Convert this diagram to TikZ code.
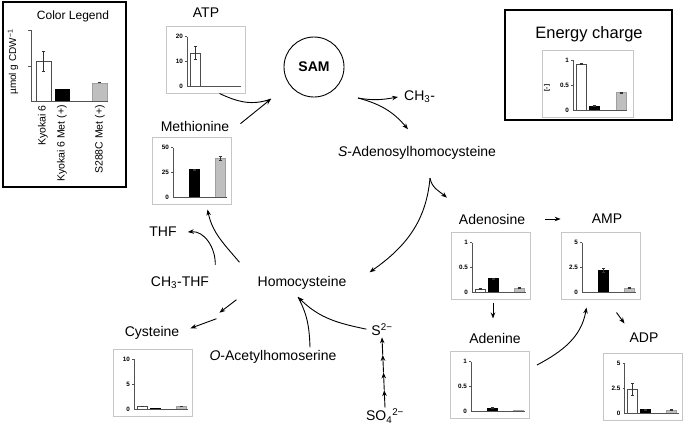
\documentclass[tikz,border=0pt]{standalone}
\usepackage{fontspec}
\setmainfont{Liberation Sans}
\usetikzlibrary{arrows, arrows.meta, calc, positioning}

\tikzset{
  lbl/.style={font=\fontsize{14}{16}\selectfont, inner sep=1pt},
  chartbox/.style={draw=gray!45, line width=0.8pt, minimum width=79pt, minimum height=67pt, inner sep=0pt, outer sep=0pt},
  framebox/.style={draw=black, line width=1.6pt},
  axisline/.style={draw=gray!65!black, line width=0.6pt},
  ticklabel/.style={font=\fontsize{6.3}{7}\selectfont\bfseries, anchor=east, inner sep=0pt},
  wbar/.style={draw=gray!60!black, fill=white, line width=0.5pt},
  kbar/.style={draw=black, fill=black, line width=0.5pt},
  gbar/.style={draw=gray!75, fill=gray!50, line width=0.5pt},
  errbar/.style={draw=gray!40!black, line width=0.5pt},
  conn/.style={line width=0.9pt, >={Stealth[length=6pt,width=4.5pt]}},
}

% small bar chart inside a chart box: [axis offset]{box}{top}{middle}{x/height/error/style,...}
\newcommand{\minichart}[5][21]{%
  \begin{scope}[shift={($(#2.south west)+(#1,-7)$)}, yscale=-1]
    \foreach \bx/\bh/\be/\bs in {#5} {
      \draw[\bs] (\bx,0) rectangle (\bx+10,50*\bh);
      \ifdim\be pt>0pt
        \draw[errbar] (\bx+5,50*\bh-50*\be) -- (\bx+5,50*\bh+50*\be)
          (\bx+3.5,50*\bh+50*\be) -- (\bx+6.5,50*\bh+50*\be)
          (\bx+3.5,50*\bh-50*\be) -- (\bx+6.5,50*\bh-50*\be);
      \fi
    }
    \draw[axisline] (0,50) -- (0,0) -- (54,0) (-2,50) -- (0,50) (-2,25) -- (0,25);
    \node[ticklabel] at (-4,50) {#3};
    \node[ticklabel] at (-4,25) {#4};
    \node[ticklabel] at (-4,0) {0};
  \end{scope}}

\begin{document}
\begin{tikzpicture}[x=1pt, y=-1pt]
\useasboundingbox (0,0) rectangle (685,426);

% colour legend
\draw[framebox] (3,2) rectangle (126,187);
\node[font=\fontsize{12}{14}\selectfont] (legtitle) at (73,16) {Color Legend};
\draw[wbar] (36,101) rectangle (51,61);
\draw[errbar] (43.5,51) -- (43.5,71) (42,51) -- (45,51) (42,71) -- (45,71);
\draw[kbar] (55,101) rectangle (69,89);
\draw[gbar] (92,101) rectangle (107,83);
\draw[errbar] (98,82) -- (101,82);
\draw[axisline] (31,101) -- (31,30) (28,30) -- (31,30) (28,66) -- (31,66) (31,101) -- (108,101);
\node[font=\fontsize{10}{12}\selectfont, rotate=90] (legunit) at (13,62) {µmol g CDW\textsuperscript{−1}};
\node[font=\fontsize{10.5}{12}\selectfont, rotate=90, anchor=east, inner sep=0pt] (legk6) at (43,105) {Kyokai 6};
\node[font=\fontsize{10.5}{12}\selectfont, rotate=90, anchor=east, inner sep=0pt] (legk6met) at (62,105) {Kyokai 6 Met (+)};
\node[font=\fontsize{10.5}{12}\selectfont, rotate=90, anchor=east, inner sep=0pt] (legs288c) at (100,105) {S288C Met (+)};

% energy charge
\draw[framebox] (505,10) rectangle (672,120);
\node[font=\fontsize{16.5}{18}\selectfont] (ectitle) at (589,34) {Energy charge};
\node[chartbox, minimum width=91pt] (ecchart) at (587.5,83.5) {};
\minichart[31]{ecchart}{1}{0.5}{3/0.92/0.01/wbar, 16/0.08/0.01/kbar, 43/0.35/0.01/gbar}
\node[ticklabel, anchor=center, rotate=90] (ecunit) at (547,88) {[-]};

% metabolites
\node[lbl] (atp) at (206,13) {ATP};
\node[chartbox] (atpchart) at (205.5,60) {};
\minichart{atpchart}{20}{10}{3/0.675/0.125/wbar, 16/0.004/0/kbar, 42/0.004/0/gbar}

\node[draw, circle, line width=0.9pt, minimum size=60pt, font=\fontsize{14}{16}\selectfont\bfseries] (sam) at (314,67) {SAM};
\node[lbl, anchor=west] (ch3) at (403,97) {CH\textsubscript{3}-};
\node[lbl] (sah) at (417,153) {\textit{S}-Adenosylhomocysteine};

\node[lbl] (met) at (195,126) {Methionine};
\node[chartbox] (metchart) at (191.5,171) {};
\minichart{metchart}{50}{25}{3/0/0/wbar, 16/0.56/0.01/kbar, 42/0.78/0.04/gbar}

\node[lbl] (thf) at (163,232) {THF};
\node[lbl] (ch3thf) at (180,283) {CH\textsubscript{3}-THF};
\node[lbl] (hcy) at (302,283) {Homocysteine};

\node[lbl] (cys) at (152,333) {Cysteine};
\node[chartbox] (cyschart) at (152.5,382.5) {};
\minichart{cyschart}{10}{5}{3/0.06/0.005/wbar, 16/0.02/0/kbar, 42/0.06/0.005/gbar}
\node[lbl] (oah) at (273,357) {\textit{O}-Acetylhomoserine};

\node[lbl] (s2) at (382,330) {S\textsuperscript{2−}};
\node[lbl] (so4) at (385,416) {SO\textsubscript{4}\textsuperscript{2−}};

\node[lbl] (ado) at (492,219) {Adenosine};
\node[chartbox] (adochart) at (490.5,266) {};
\minichart{adochart}{1}{0.5}{3/0.07/0.01/wbar, 16/0.28/0.01/kbar, 42/0.09/0.01/gbar}

\node[lbl] (amp) at (607,219) {AMP};
\node[chartbox] (ampchart) at (600.5,266) {};
\minichart{ampchart}{5}{2.5}{3/0.01/0/wbar, 16/0.45/0.04/kbar, 42/0.09/0.01/gbar}

\node[lbl] (ade) at (495,338) {Adenine};
\node[chartbox] (adechart) at (489.5,385) {};
\minichart{adechart}{1}{0.5}{3/0.01/0/wbar, 16/0.07/0.01/kbar, 42/0.02/0/gbar}

\node[lbl] (adp) at (644,338) {ADP};
\node[chartbox] (adpchart) at (643,386.5) {};
\minichart{adpchart}{5}{2.5}{3/0.47/0.12/wbar, 16/0.07/0.01/kbar, 42/0.06/0.01/gbar}

% free ends of the connectors
\coordinate (samin) at (271,99);
\coordinate (samout) at (358,98);
\coordinate (sahout) at (430,178);
\coordinate (hcyin) at (298,297);

% methionine + ATP -> SAM
\draw[conn] ([xshift=14pt]atpchart.south) to[out=-25,in=200] (samin);
\draw[conn,->] ([shift={(10pt,-4pt)}]met.north east) -- (samin);

% SAM -> CH3- + SAH
\draw[conn,->] (samout) to[out=-10,in=190] ([xshift=-5pt]ch3.west);
\draw[conn,->] (samout) to[out=-15,in=130] ([shift={(-9pt,16pt)}]sah.north);

% SAH -> adenosine, homocysteine
\draw[conn,->] (sahout) to[out=-80,in=140] ([shift={(-45pt,15pt)}]ado.north);
\draw[conn,->] (sahout) to[out=-95,in=35] ([shift={(22pt,3pt)}]hcy.north east);

% homocysteine -> methionine, CH3-THF -> THF
\draw[conn,->] ([shift={(-17pt,13pt)}]hcy.north west) to[out=130,in=-78] ([xshift=16pt,yshift=-5pt]metchart.south);
\draw[conn,->] ([shift={(5pt,11pt)}]ch3thf.north east) to[out=88,in=5] ([xshift=10pt]thf.east);

% homocysteine -> cysteine
\draw[conn,->] ([shift={(-20pt,-9pt)}]hcy.south west) -- ([shift={(-37pt,-22pt)}]hcy.south west);
\draw[conn,->] ([shift={(-40pt,-28pt)}]hcy.south west) -- ([shift={(10pt,-3pt)}]cys.north east);

% S2- + O-acetylhomoserine -> homocysteine
\draw[conn,->,shorten <=4pt] (s2.west) to[out=168,in=-45] (hcyin);
\draw[conn] ([xshift=37pt,yshift=2pt]oah.north) to[out=92,in=-62] (hcyin);

% sulfate assimilation
\foreach \i in {0,...,3}
  \draw[conn,->] ($(so4.north)!\i/4!(s2.south)$) -- ($(so4.north)!\i/4+0.25!(s2.south)$);

% adenine nucleotides
\draw[conn,->,shorten <=19pt,shorten >=30pt] (ado.east) -- (amp.west);
\draw[conn,->] ([xshift=2.5pt,yshift=-3pt]adochart.south) -- ++(0,16);
\draw[conn,->] ([shift={(8pt,20pt)}]adechart.east) to[out=28,in=-100] ([shift={(-14pt,-8pt)}]ampchart.south);
\draw[conn,->] ([shift={(16pt,-13pt)}]ampchart.south) -- ([shift={(24pt,-24pt)}]ampchart.south);
\end{tikzpicture}
\end{document}
